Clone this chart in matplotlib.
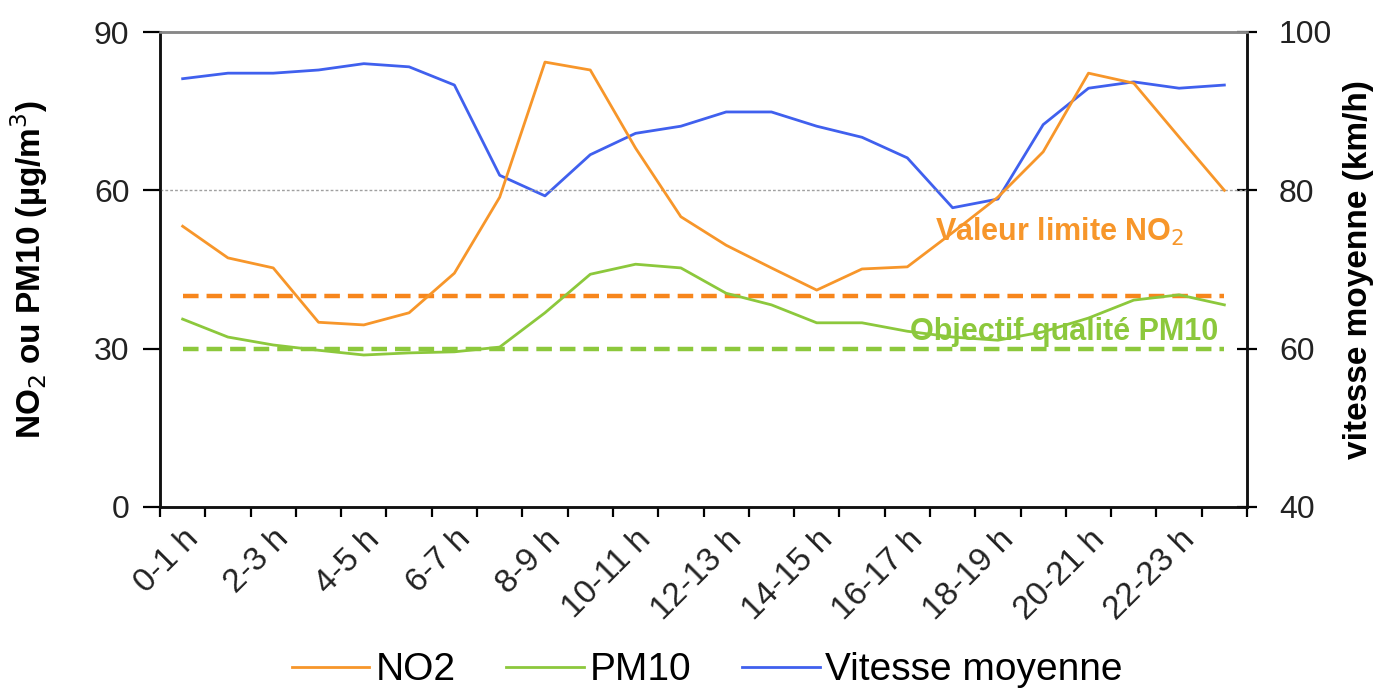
import matplotlib
matplotlib.use("Agg")
import matplotlib.pyplot as plt

plt.rcParams["font.family"] = ["Liberation Sans", "DejaVu Sans"]

hours = [f"{h}-{h+1} h" for h in range(24)]
no2 = [53.2, 47.2, 45.3, 35.0, 34.5, 36.8, 44.3, 58.7, 84.3, 82.8, 68.0, 55.0,
       49.6, 45.3, 41.1, 45.1, 45.5, 52.0, 58.7, 67.3, 82.2, 80.3, 70.1, 60.0]
pm10 = [35.6, 32.2, 30.7, 29.7, 28.8, 29.2, 29.4, 30.3, 36.8, 44.1, 46.0, 45.3,
        40.5, 38.3, 34.9, 34.9, 33.3, 32.2, 31.6, 33.2, 35.8, 39.2, 40.2, 38.3]
speed = [94.1, 94.8, 94.8, 95.2, 96.0, 95.6, 93.3, 81.9, 79.3, 84.5, 87.2, 88.1,
         89.9, 89.9, 88.1, 86.7, 84.1, 77.8, 78.9, 88.3, 92.9, 93.7, 92.9, 93.3]
no2_limit = 40
pm10_objective = 30

c_no2 = "#F7962A"
c_pm = "#8CC83C"
c_speed = "#4060EE"

fig = plt.figure(figsize=(13.76, 6.96), dpi=100)
ax = fig.add_axes([160/1376, 1-507/696, (1247-160)/1376, (507-32)/696])
ax2 = ax.twinx()

x = list(range(len(hours)))
ax.axhline(60, color="#A0A0A0", lw=1.0, ls=(0, (2, 1.5)), zorder=1)
ax.plot(x, [no2_limit]*len(x), color="#F7861C", lw=3.2, ls=(0, (3.5, 1.8)), zorder=2)
ax.plot(x, [pm10_objective]*len(x), color="#8CC83C", lw=3.2, ls=(0, (3.5, 1.8)), zorder=2)
l1, = ax.plot(x, no2, color=c_no2, lw=2.0, zorder=3, label="NO2")
l2, = ax.plot(x, pm10, color=c_pm, lw=2.0, zorder=3, label="PM10")
l3, = ax2.plot(x, speed, color=c_speed, lw=2.0, zorder=3, label="Vitesse moyenne")

ax.set_xlim(-0.5, 23.5)
ax.set_ylim(0, 90)
ax.set_yticks([0, 30, 60, 90])
ax2.set_ylim(40, 100)
ax2.set_yticks([40, 60, 80, 100])

ax.set_xticks([i - 0.5 for i in range(25)])
ax.set_xticklabels([])
ax.set_xticks(x[::2], minor=True)
ax.set_xticklabels(hours[::2], minor=True, rotation=45, ha="right", va="top",
                   rotation_mode="anchor", fontsize=24, color="#222222")
ax.tick_params(axis="x", which="minor", length=0, pad=12)
ax.tick_params(axis="x", which="major", direction="out", length=7, width=1.6)
ax.tick_params(axis="y", direction="out", length=12, width=1.6, labelsize=23,
               pad=10, labelcolor="#222222")
ax2.tick_params(axis="y", direction="inout", length=14, width=1.6, labelsize=23,
                pad=16, labelcolor="#222222")

for a in (ax, ax2):
    for s in ("left", "bottom", "right"):
        a.spines[s].set_linewidth(1.8)
        a.spines[s].set_color("#111111")
    a.spines["top"].set_color("#888888")
    a.spines["top"].set_linewidth(1.8)

ax.set_ylabel("NO$_2$ ou PM10 (µg/m$^3$)", fontsize=24, fontweight="bold")
ax.yaxis.set_label_coords(-0.101, 0.5)
ax2.set_ylabel("vitesse moyenne (km/h)", fontsize=24, fontweight="bold")
ax2.yaxis.set_label_coords(1.088, 0.5)

ax.text(19.36, 52.1, "Valeur limite NO$_2$", color=c_no2, fontsize=22,
        fontweight="bold", ha="center", va="center", zorder=5)
ax.text(19.47, 33.2, "Objectif qualité PM10", color=c_pm, fontsize=22,
        fontweight="bold", ha="center", va="center", zorder=5)

ax.set_zorder(ax2.get_zorder() + 1)
ax.patch.set_visible(False)

fig.legend(handles=[l1, l2, l3], loc="center", bbox_to_anchor=(0.514, 0.037),
           ncol=3, frameon=False, fontsize=28, handlelength=2.0,
           handletextpad=0.15, columnspacing=1.3)

fig.savefig("out.png", dpi=100)
